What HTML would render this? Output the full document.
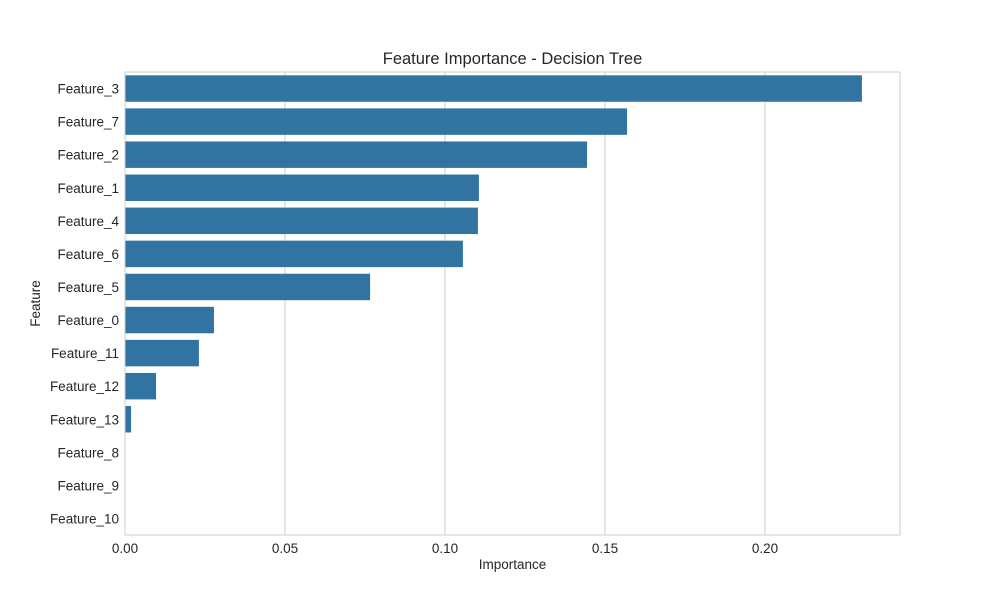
<!DOCTYPE html>
<html><head><meta charset="utf-8"><style>
body{margin:0;background:#fff;font-family:"Liberation Sans",sans-serif;}
</style></head><body>
<svg id="chart" width="1000" height="600" xmlns="http://www.w3.org/2000/svg" font-family="Liberation Sans, sans-serif"></svg>
<script>
const categories = ["Feature_3","Feature_7","Feature_2","Feature_1","Feature_4","Feature_6","Feature_5","Feature_0","Feature_11","Feature_12","Feature_13","Feature_8","Feature_9","Feature_10"];
const importances = [0.2303,0.1569,0.1444,0.1106,0.1103,0.1056,0.0766,0.0278,0.0231,0.0097,0.0019,0,0,0];
const xTicks = [0,0.05,0.10,0.15,0.20];
const xTickLabels = ["0.00","0.05","0.10","0.15","0.20"];

const svg = document.getElementById('chart');
const NS = "http://www.w3.org/2000/svg";
const L=125,R=900,T=72,B=535,xMax=0.2422;
const x = v => L + v/xMax*(R-L);
const band = (B-T)/categories.length;
const y = i => T + i*band;
function mk(tag, attrs, text){const e=document.createElementNS(NS,tag);for(const k in attrs)e.setAttribute(k,attrs[k]);if(text!==undefined)e.textContent=text;svg.appendChild(e);return e;}

xTicks.forEach((t,i)=>{
  const g=mk('line',{x1:x(t),x2:x(t),y1:T,y2:B,stroke:'#cccccc','stroke-width':1});
  
  
  const lb=mk('text',{x:x(t),y:B+18,'text-anchor':'middle','font-size':13.5,fill:'#262626'},xTickLabels[i]);
  
  
});
categories.forEach((c,i)=>{
  const b=mk('rect',{x:L,y:y(i)+band*0.1,width:Math.max(0,x(importances[i])-L),height:band*0.8,fill:'#3274a1'});
  
  
  const lb=mk('text',{x:L-6,y:y(i)+band/2+5,'text-anchor':'end','font-size':13.5,fill:'#262626'},c);
  
  
});
const fr=mk('rect',{x:L,y:T,width:R-L,height:B-T,fill:'none',stroke:'#cccccc','stroke-width':1});


const tt=mk('text',{x:(L+R)/2,y:64,'text-anchor':'middle','font-size':16.5,fill:'#262626'},'Feature Importance - Decision Tree');


const xt=mk('text',{x:(L+R)/2,y:569,'text-anchor':'middle','font-size':13.5,fill:'#262626'},'Importance');


const yt=mk('text',{x:40,y:(T+B)/2,'text-anchor':'middle','font-size':13.5,fill:'#262626',transform:'rotate(-90 40 '+((T+B)/2)+')'},'Feature');


</script>
</body></html>
